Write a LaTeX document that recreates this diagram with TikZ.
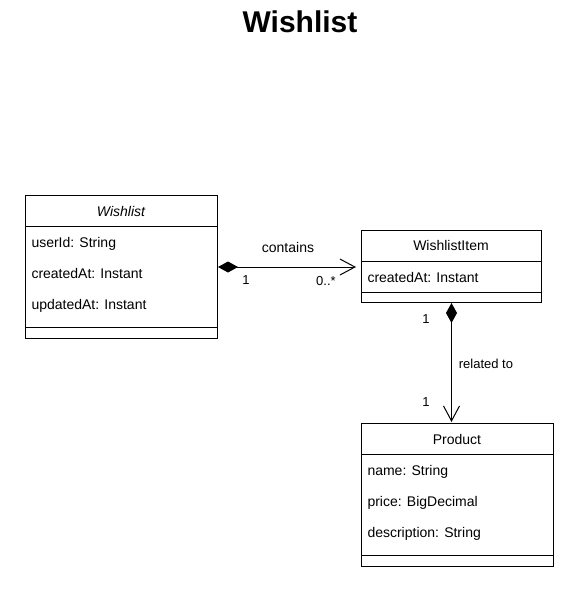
\documentclass[tikz,border=0pt]{standalone}
\usepackage{fontspec}
\setmainfont{Liberation Sans}
\usetikzlibrary{arrows.meta,positioning,calc}

\begin{document}
\begin{tikzpicture}[x=1pt, y=-1pt, line width=1pt, font=\fontsize{14}{16}\selectfont]

\tikzset{
    classbox/.style={draw, rectangle, inner sep=0pt, anchor=north west},
    attr/.style={anchor=west, inner sep=0pt, text height=13pt, text depth=2pt},
    mult/.style={inner sep=0pt, text height=12.5pt, text depth=2pt, font=\fontsize{13}{15}\selectfont},
    compos/.style={{Diamond[length=20pt,width=11pt]}-{Straight Barb[length=15pt,width=16pt]}}
}

\useasboundingbox (0,0) rectangle (578,603);

% Titolo
\node[font=\bfseries\fontsize{30}{34}\selectfont] (titolo) at (300,22) {Wishlist};

% Classe Wishlist
\node[classbox, minimum width=192pt, minimum height=143pt] (wl) at (25,195) {};
\node[attr, anchor=center, font=\itshape\fontsize{14}{16}\selectfont] (wlnome) at (121,211) {Wishlist};
\draw ([yshift=-31pt]wl.north west) -- ([yshift=-31pt]wl.north east);
\node[attr] (wla1) at (31,242) {userId: String};
\node[attr] (wla2) at (31,273) {createdAt: Instant};
\node[attr] (wla3) at (31,304) {updatedAt: Instant};
\draw ([yshift=12pt]wl.south west) -- ([yshift=12pt]wl.south east);

% Classe WishlistItem
\node[classbox, minimum width=180pt, minimum height=72pt] (wi) at (361,230) {};
\node[attr, anchor=center] (winome) at (451,245) {WishlistItem};
\draw ([yshift=-31pt]wi.north west) -- ([yshift=-31pt]wi.north east);
\node[attr] (wia1) at (367,277) {createdAt: Instant};
\draw ([yshift=11pt]wi.south west) -- ([yshift=11pt]wi.south east);

% Classe Product
\node[classbox, minimum width=192pt, minimum height=143pt] (pr) at (361,423) {};
\node[attr, anchor=center] (prnome) at (457,439) {Product};
\draw ([yshift=-31pt]pr.north west) -- ([yshift=-31pt]pr.north east);
\node[attr] (pra1) at (367,470) {name: String};
\node[attr] (pra2) at (367,501) {price: BigDecimal};
\node[attr] (pra3) at (367,532) {description: String};
\draw ([yshift=12pt]pr.south west) -- ([yshift=12pt]pr.south east);

% Associazioni
\draw[compos, shorten >=5pt] (wl.east) -- (wl.east -| wi.west);
\node[attr, anchor=center] (cont) at (288,247) {contains};
\node[mult] (m1) at (246,279) {1};
\node[mult] (m2) at (326,280) {0..*};

\draw[compos, shorten >=1pt] (wi.south) -- (wi.south |- pr.north);
\node[mult] (rel) at (486,363) {related to};
\node[mult] (m3) at (426,318) {1};
\node[mult] (m4) at (426,401) {1};

\end{tikzpicture}
\end{document}
